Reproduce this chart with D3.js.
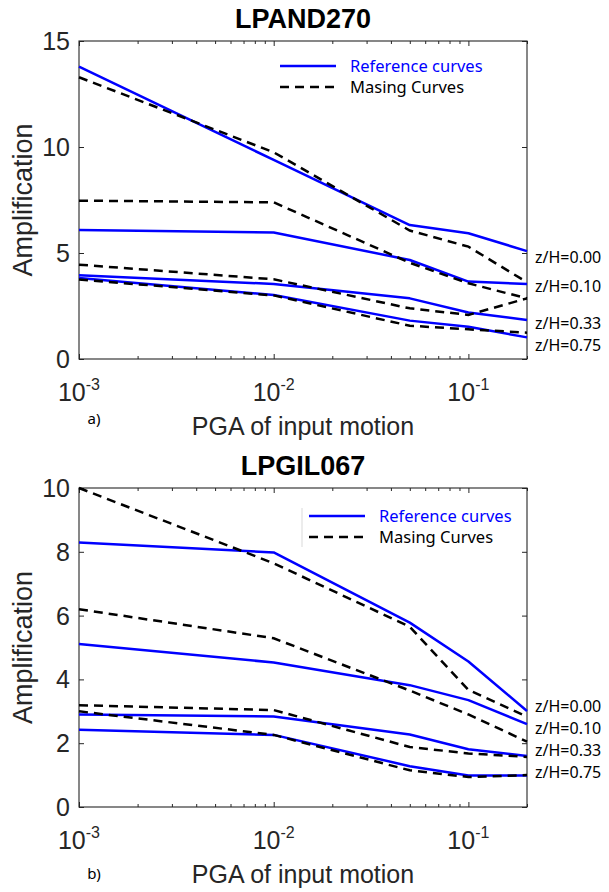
<!DOCTYPE html>
<html>
<head>
<meta charset="utf-8">
<script src="https://cdn.jsdelivr.net/npm/d3@7"></script>
<style>
  html, body { margin: 0; padding: 0; background: #fff; }
  svg { display: block; }
</style>
</head>
<body>
<script>
// ---------------- DATA ----------------
const pga = [0.001, 0.01, 0.05, 0.1, 0.2];
const xMajorTicks = [0.001, 0.01, 0.1];
const xTickExponents = ["-3", "-2", "-1"];
const depthLabels = ["z/H=0.00", "z/H=0.10", "z/H=0.33", "z/H=0.75"];
const legendLabels = ["Reference curves", "Masing Curves"];

// Panel a) LPAND270
const titleA = "LPAND270";
const yTicksA = [0, 5, 10, 15];
const refA_000 = [13.79, 9.39, 6.32, 5.93, 5.09];
const refA_010 = [6.08, 5.97, 4.67, 3.65, 3.54];
const refA_033 = [3.95, 3.54, 2.86, 2.19, 1.84];
const refA_075 = [3.82, 3.02, 1.81, 1.52, 1.02];
const masA_000 = [13.29, 9.75, 6.06, 5.30, 3.62];
const masA_010 = [7.47, 7.39, 4.54, 3.57, 2.86];
const masA_033 = [4.45, 3.76, 2.39, 2.08, 2.86];
const masA_075 = [3.75, 3.00, 1.57, 1.40, 1.24];

// Panel b) LPGIL067
const titleB = "LPGIL067";
const yTicksB = [0, 2, 4, 6, 8, 10];
const refB_000 = [8.29, 7.98, 5.78, 4.56, 3.01];
const refB_010 = [5.11, 4.53, 3.82, 3.35, 2.60];
const refB_033 = [2.90, 2.84, 2.27, 1.81, 1.60];
const refB_075 = [2.42, 2.26, 1.28, 0.99, 0.99];
const masB_000 = [10.0, 7.64, 5.65, 3.67, 2.83];
const masB_010 = [6.20, 5.29, 3.65, 2.90, 2.05];
const masB_033 = [3.19, 3.04, 1.88, 1.68, 1.57];
const masB_075 = [3.00, 2.26, 1.15, 0.94, 1.00];

// ---------------- LAYOUT ----------------
const W = 609, H = 892;
const svg = d3.select("body").append("svg").attr("width", W).attr("height", H);
const AX = "#262626";
const FONT = "'Liberation Sans', Arial, sans-serif";
const FONT2 = "'Noto Sans', 'Open Sans', sans-serif";

const panels = [
  { title: titleA, yMax: 15, yTicks: yTicksA,
    ref: [refA_000, refA_010, refA_033, refA_075],
    mas: [masA_000, masA_010, masA_033, masA_075],
    left: 79, right: 527, top: 41, bottom: 359, titleY: 28,
    labelYs: [257, 286, 323, 345], tag: "a)", tagY: 419,
    legX: 280, legY: 66, legBorder: false },
  { title: titleB, yMax: 10, yTicks: yTicksB,
    ref: [refB_000, refB_010, refB_033, refB_075],
    mas: [masB_000, masB_010, masB_033, masB_075],
    left: 79, right: 527, top: 488, bottom: 807, titleY: 475,
    labelYs: [706, 728, 750, 772], tag: "b)", tagY: 874,
    legX: 309, legY: 516, legBorder: true }
];

function minorTicks(dom) {
  const out = [];
  for (let e = -3; e <= -1; e++) {
    for (let k = 2; k <= 9; k++) {
      const v = k * Math.pow(10, e);
      if (v > dom[0] && v < dom[1] * 1.0001) out.push(v);
    }
  }
  return out;
}

panels.forEach(p => {
  const g = svg.append("g");
  const x = d3.scaleLog().domain([0.001, 0.2]).range([p.left, p.right]);
  const y = d3.scaleLinear().domain([0, p.yMax]).range([p.bottom, p.top]);
  const minors = minorTicks(x.domain());

  // Axes (ticks inward)
  const axes = [
    { gen: d3.axisBottom(x), t: `translate(0,${p.bottom})`, vals: xMajorTicks, len: -5 },
    { gen: d3.axisBottom(x), t: `translate(0,${p.bottom})`, vals: minors, len: -3 },
    { gen: d3.axisTop(x), t: `translate(0,${p.top})`, vals: xMajorTicks, len: -5 },
    { gen: d3.axisTop(x), t: `translate(0,${p.top})`, vals: minors, len: -3 },
    { gen: d3.axisLeft(y), t: `translate(${p.left},0)`, vals: p.yTicks, len: -5 },
    { gen: d3.axisRight(y), t: `translate(${p.right},0)`, vals: p.yTicks, len: -5 }
  ];
  axes.forEach(a => {
    const ag = g.append("g").attr("transform", a.t)
      .call(a.gen.tickValues(a.vals).tickSize(a.len).tickFormat(""));
    ag.select(".domain").remove();
    ag.selectAll("line").attr("stroke", AX).attr("stroke-width", 1);
  });

  // Box
  g.append("rect").attr("x", p.left).attr("y", p.top)
    .attr("width", p.right - p.left).attr("height", p.bottom - p.top)
    .attr("fill", "none").attr("stroke", AX).attr("stroke-width", 1.1);

  // Y tick labels
  g.selectAll(".ylab").data(p.yTicks).enter().append("text")
    .attr("x", p.left - 9).attr("y", d => y(d))
    .attr("dy", "0.36em")
    .attr("text-anchor", "end")
    .attr("font-family", FONT).attr("font-size", 25).attr("fill", AX)
    .text(d => d);

  // X tick labels with superscripts
  xMajorTicks.forEach((v, i) => {
    const t = g.append("text")
      .attr("x", x(v)).attr("y", p.bottom + 42)
      .attr("text-anchor", "middle")
      .attr("font-family", FONT).attr("font-size", 25).attr("fill", AX);
    t.append("tspan").text("10");
    t.append("tspan").attr("dy", -11).attr("font-size", 16).text(xTickExponents[i]);
  });

  // Title
  g.append("text").attr("x", (p.left + p.right) / 2).attr("y", p.titleY)
    .attr("text-anchor", "middle")
    .attr("font-family", FONT).attr("font-weight", "bold").attr("font-size", 27)
    .attr("fill", "#000").text(p.title);

  // Axis labels
  g.append("text").attr("x", (p.left + p.right) / 2).attr("y", p.bottom + 76)
    .attr("text-anchor", "middle")
    .attr("font-family", FONT).attr("font-size", 25).attr("fill", AX)
    .text("PGA of input motion");
  g.append("text")
    .attr("transform", `translate(32,${(p.top + p.bottom) / 2}) rotate(-90)`)
    .attr("text-anchor", "middle")
    .attr("font-family", FONT).attr("font-size", 27).attr("fill", AX)
    .text("Amplification");

  // Tag
  g.append("text").attr("x", 94).attr("y", p.tagY).attr("dy", "0.35em")
    .attr("text-anchor", "middle")
    .attr("font-family", FONT2).attr("font-size", 15).attr("fill", "#000")
    .text(p.tag);

  // Curves
  const line = d3.line().x(d => x(d[0])).y(d => y(d[1]));
  p.ref.forEach(s => {
    g.append("path").datum(pga.map((v, i) => [v, s[i]]))
      .attr("d", line).attr("fill", "none")
      .attr("stroke", "#0000ff").attr("stroke-width", 2.5)
      .attr("stroke-linejoin", "round");
  });
  p.mas.forEach(s => {
    g.append("path").datum(pga.map((v, i) => [v, s[i]]))
      .attr("d", line).attr("fill", "none")
      .attr("stroke", "#000").attr("stroke-width", 2.5)
      .attr("stroke-dasharray", "9,6");
  });

  // Depth labels on the right
  depthLabels.forEach((lab, i) => {
    g.append("text").attr("x", p.right + 8).attr("y", p.labelYs[i])
      .attr("dy", "0.35em")
      .attr("font-family", FONT2).attr("font-size", 16).attr("fill", "#000")
      .text(lab);
  });

  // Legend
  const lg = g.append("g");
  if (p.legBorder) {
    lg.append("line").attr("x1", p.legX - 7).attr("x2", p.legX - 7)
      .attr("y1", p.legY - 8).attr("y2", p.legY + 31)
      .attr("stroke", "#d9d9d9").attr("stroke-width", 1);
  }
  lg.append("line").attr("x1", p.legX).attr("x2", p.legX + 56)
    .attr("y1", p.legY).attr("y2", p.legY)
    .attr("stroke", "#0000ff").attr("stroke-width", 2.5);
  lg.append("line").attr("x1", p.legX).attr("x2", p.legX + 54)
    .attr("y1", p.legY + 21).attr("y2", p.legY + 21)
    .attr("stroke", "#000").attr("stroke-width", 2.5)
    .attr("stroke-dasharray", "9,6");
  lg.append("text").attr("x", p.legX + 70).attr("y", p.legY).attr("dy", "0.35em")
    .attr("font-family", FONT2).attr("font-size", 16.5).attr("fill", "#0000ff")
    .text(legendLabels[0]);
  lg.append("text").attr("x", p.legX + 70).attr("y", p.legY + 21).attr("dy", "0.35em")
    .attr("font-family", FONT2).attr("font-size", 16.5).attr("fill", "#000")
    .text(legendLabels[1]);
});
</script>
</body>
</html>
